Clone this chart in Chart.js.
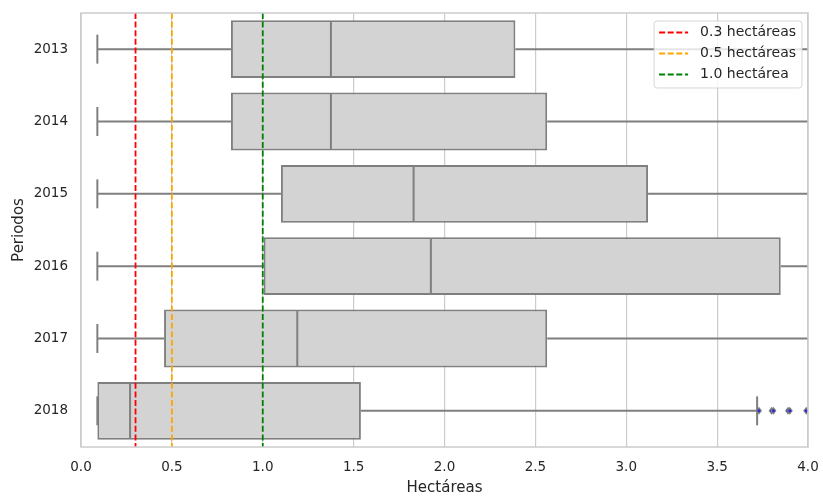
<!DOCTYPE html>
<html>
<head>
<meta charset="utf-8">
<script src="https://cdn.jsdelivr.net/npm/chart.js@4.4.1/dist/chart.umd.min.js"></script>
<style>
  html, body { margin: 0; padding: 0; background: #fff; }
  #wrap { width: 823px; height: 497px; position: relative; }
</style>
</head>
<body>
<div id="wrap"><canvas id="boxChart"></canvas></div>
<script>
// ---------------------------------------------------------------
// data
// ---------------------------------------------------------------
const periods   = ['2013', '2014', '2015', '2016', '2017', '2018'];
const whiskLow  = [0.09, 0.09, 0.09, 0.09, 0.09, 0.09];
const q1        = [0.825, 0.825, 1.10, 1.005, 0.457, 0.09];
const median    = [1.375, 1.375, 1.83, 1.925, 1.19, 0.27];
const q3        = [2.39, 2.565, 3.12, 3.85, 2.565, 1.54];
const whiskHigh = [4.7, 5.1, 6.1, 8.1, 5.7, 3.72];
const outliers  = [[], [], [], [], [], [3.73, 3.80, 3.81, 3.89, 3.90, 3.99]];

const refValues = [0.3, 0.5, 1.0];
const refLabels = ['0.3 hectáreas', '0.5 hectáreas', '1.0 hectárea'];
const refColors = ['#ff0000', '#ffa500', '#008000'];

const xMin = 0, xMax = 4, xStep = 0.5;

const TEXT = '#262626';
const EDGE = '#7f7f7f';
const FILL = '#d3d3d3';
const GRID = '#cccccc';
const DASH = [6, 2.6];

Chart.defaults.font.family = "'DejaVu Sans', sans-serif";

function strokeLine(ctx, x1, y1, x2, y2) {
  ctx.beginPath();
  ctx.moveTo(x1, y1);
  ctx.lineTo(x2, y2);
  ctx.stroke();
}

// whiskers, medians, fliers, reference lines, frame, legend
const boxParts = {
  id: 'boxParts',
  afterDatasetsDraw(chart) {
    const { ctx, chartArea: a, scales: { x } } = chart;
    const px = v => x.getPixelForValue(v);
    const bars = chart.getDatasetMeta(0).data;

    ctx.save();
    ctx.beginPath();
    ctx.rect(a.left, a.top, a.right - a.left, a.bottom - a.top);
    ctx.clip();

    ctx.strokeStyle = EDGE;
    ctx.lineWidth = 2;
    bars.forEach((bar, i) => {
      const { y: cy, height: h } = bar.getProps(['y', 'height'], true);
      strokeLine(ctx, px(whiskLow[i]), cy, px(q1[i]), cy);
      strokeLine(ctx, px(q3[i]), cy, px(whiskHigh[i]), cy);
      strokeLine(ctx, px(whiskLow[i]), cy - h / 4, px(whiskLow[i]), cy + h / 4);
      strokeLine(ctx, px(whiskHigh[i]), cy - h / 4, px(whiskHigh[i]), cy + h / 4);
      strokeLine(ctx, px(median[i]), cy - h / 2 + 1, px(median[i]), cy + h / 2 - 1);

      outliers[i].forEach(v => {
        const ox = px(v), r = 4;
        ctx.fillStyle = EDGE;
        ctx.beginPath();
        ctx.moveTo(ox, cy - r);
        ctx.lineTo(ox + r * 0.75, cy);
        ctx.lineTo(ox, cy + r);
        ctx.lineTo(ox - r * 0.75, cy);
        ctx.closePath();
        ctx.fill();
        ctx.fillStyle = '#2b2bd6';
        ctx.beginPath();
        ctx.arc(ox, cy, 1.5, 0, Math.PI * 2);
        ctx.fill();
      });
    });

    // reference lines
    ctx.lineWidth = 1.8;
    ctx.setLineDash(DASH);
    refValues.forEach((v, i) => {
      ctx.strokeStyle = refColors[i];
      strokeLine(ctx, px(v), a.top, px(v), a.bottom);
    });
    ctx.restore();

    // plot frame
    ctx.save();
    ctx.strokeStyle = GRID;
    ctx.lineWidth = 1.5;
    ctx.strokeRect(a.left, a.top, a.right - a.left, a.bottom - a.top);
    ctx.restore();

    // legend
    ctx.save();
    ctx.font = "14px 'DejaVu Sans'";
    const textW = Math.max(...refLabels.map(t => ctx.measureText(t).width));
    const w = 5 + 29 + 12 + textW + 6;
    const h = 67;
    const lx = a.right - 6 - w, ly = a.top + 8;
    ctx.beginPath();
    ctx.roundRect(lx, ly, w, h, 3);
    ctx.fillStyle = 'rgba(255,255,255,0.8)';
    ctx.fill();
    ctx.strokeStyle = 'rgba(204,204,204,0.8)';
    ctx.lineWidth = 1;
    ctx.stroke();
    refLabels.forEach((t, i) => {
      const ry = ly + 11.5 + i * 21;
      ctx.strokeStyle = refColors[i];
      ctx.lineWidth = 1.8;
      ctx.setLineDash(DASH);
      strokeLine(ctx, lx + 5, ry, lx + 34, ry);
      ctx.setLineDash([]);
      ctx.fillStyle = TEXT;
      ctx.textBaseline = 'middle';
      ctx.fillText(t, lx + 46, ry);
    });
    ctx.restore();
  }
};

new Chart(document.getElementById('boxChart'), {
  type: 'bar',
  data: {
    labels: periods,
    datasets: [{
      data: periods.map((p, i) => [q1[i], q3[i]]),
      backgroundColor: FILL,
      borderColor: EDGE,
      borderWidth: 2,
      borderSkipped: false,
      barPercentage: 0.8,
      categoryPercentage: 1.0
    }]
  },
  options: {
    indexAxis: 'y',
    responsive: true,
    maintainAspectRatio: false,
    animation: false,
    events: [],
    layout: { padding: { top: 13, right: 15, left: 0, bottom: 0 } },
    plugins: { legend: { display: false }, tooltip: { enabled: false } },
    scales: {
      x: {
        type: 'linear',
        min: xMin,
        max: xMax,
        afterFit: s => { s.height = 50; s.paddingLeft = 0; s.paddingRight = 0; },
        ticks: {
          stepSize: xStep,
          color: TEXT,
          font: { size: 13.5 },
          padding: 12,
          callback: v => v.toFixed(1)
        },
        grid: { color: GRID, lineWidth: 1.2, drawTicks: false },
        border: { display: false },
        title: {
          display: true,
          text: 'Hectáreas',
          color: TEXT,
          font: { size: 15 },
          padding: { top: 0, bottom: 0 }
        }
      },
      y: {
        type: 'category',
        afterFit: s => { s.width = 81; s.paddingTop = 0; s.paddingBottom = 0; },
        ticks: { color: TEXT, font: { size: 13.5 }, padding: 13 },
        grid: { display: false, drawTicks: false },
        border: { display: false },
        title: {
          display: true,
          text: 'Periodos',
          color: TEXT,
          font: { size: 15 },
          padding: { top: 10, bottom: 0 }
        }
      }
    }
  },
  plugins: [boxParts]
});
</script>
</body>
</html>
